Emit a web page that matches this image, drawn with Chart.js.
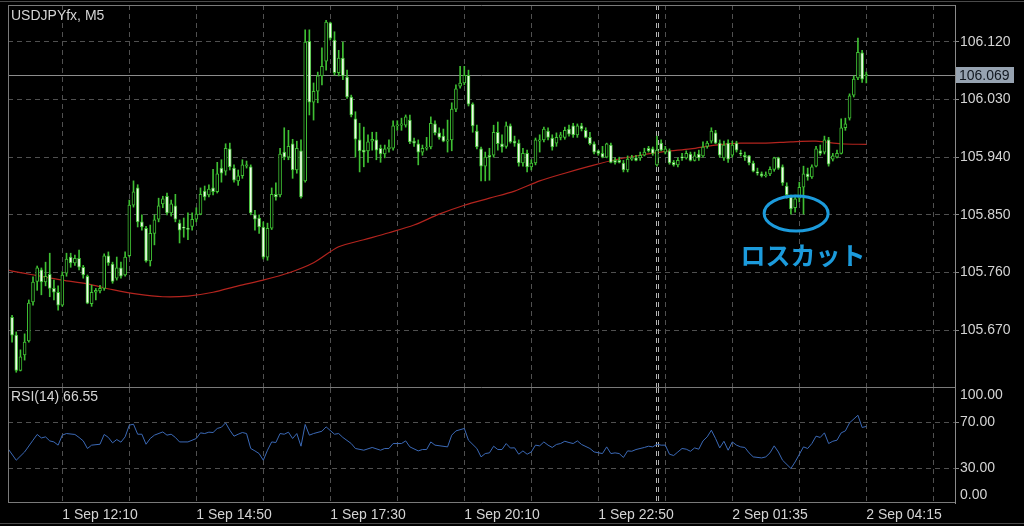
<!DOCTYPE html>
<html>
<head>
<meta charset="utf-8">
<script src="https://cdn.jsdelivr.net/npm/chart.js@4"></script>
<style>
  html, body { margin: 0; padding: 0; background: #000; }
  #wrap { position: relative; width: 1024px; height: 526px; background: #000; overflow: hidden; }
  #mainChart { position: absolute; left: 0; top: 0; }
  #rsiChart { position: absolute; left: 0; top: 388px; }
  .edge { position: absolute; left: 0; width: 1024px; height: 1px; background: #4a4a4a; }
</style>
</head>
<body>
<div id="wrap">
  <div class="edge" style="top:1px"></div>
  <canvas id="mainChart" width="1024" height="388"></canvas>
  <canvas id="rsiChart" width="1024" height="138"></canvas>
  <div class="edge" style="top:523px"></div>
</div>
<script>
// USDJPYfx M5 candles, bar 0 = 1 Sep 11:10
const opens = [
  105.690, 105.662, 105.607, 105.631, 105.653, 105.714, 105.746, 105.764, 105.745, 105.757,
  105.735, 105.729, 105.709, 105.759, 105.784, 105.775, 105.782, 105.768, 105.754, 105.711,
  105.729, 105.731, 105.735, 105.786, 105.773, 105.751, 105.767, 105.756, 105.786, 105.865,
  105.892, 105.839, 105.829, 105.778, 105.821, 105.843, 105.867, 105.879, 105.853, 105.864,
  105.837, 105.831, 105.829, 105.832, 105.843, 105.851, 105.887, 105.881, 105.892, 105.886,
  105.923, 105.918, 105.953, 105.923, 105.903, 105.911, 105.926, 105.925, 105.850, 105.845,
  105.831, 105.784, 105.829, 105.882, 105.881, 105.948, 105.940, 105.961, 105.920, 105.950,
  105.903, 106.121, 106.026, 106.043, 106.067, 106.090, 106.150, 106.123, 106.072, 106.095,
  106.065, 106.034, 106.000, 105.967, 105.951, 105.950, 105.965, 105.967, 105.954, 105.945,
  105.953, 105.954, 105.989, 105.990, 105.990, 105.998, 105.965, 105.961, 105.948, 105.954,
  105.956, 105.992, 105.978, 105.973, 105.965, 105.967, 106.015, 106.051, 106.056, 106.068,
  106.023, 105.981, 105.953, 105.926, 105.943, 105.943, 105.979, 105.961, 105.957, 105.989,
  105.965, 105.962, 105.931, 105.946, 105.925, 105.931, 105.965, 105.967, 105.981, 105.970,
  105.962, 105.971, 105.971, 105.984, 105.989, 105.975, 105.989, 105.982, 105.971, 105.961,
  105.950, 105.946, 105.940, 105.959, 105.935, 105.935, 105.931, 105.920, 105.937, 105.939,
  105.939, 105.943, 105.954, 105.953, 105.928, 105.962, 105.948, 105.950, 105.932, 105.928,
  105.940, 105.939, 105.945, 105.935, 105.945, 105.942, 105.957, 105.965, 105.978, 105.962,
  105.939, 105.962, 105.943, 105.962, 105.946, 105.943, 105.942, 105.931, 105.917, 105.914,
  105.911, 105.914, 105.921, 105.939, 105.925, 105.895, 105.878, 105.861, 105.876, 105.893,
  105.914, 105.909, 105.926, 105.950, 105.948, 105.967, 105.937, 105.940, 105.946, 105.986,
  106.001, 106.037, 106.064, 106.103, 106.067
];
const highs = [
  105.693, 105.667, 105.639, 105.664, 105.717, 105.753, 105.770, 105.767, 105.776, 105.790,
  105.748, 105.739, 105.761, 105.790, 105.790, 105.787, 105.795, 105.771, 105.756, 105.740,
  105.735, 105.740, 105.789, 105.792, 105.776, 105.784, 105.776, 105.792, 105.873, 105.903,
  105.897, 105.850, 105.832, 105.834, 105.850, 105.876, 105.879, 105.884, 105.873, 105.882,
  105.842, 105.845, 105.853, 105.853, 105.861, 105.892, 105.895, 105.897, 105.921, 105.932,
  105.936, 105.961, 105.962, 105.928, 105.920, 105.936, 105.934, 105.928, 105.857, 105.850,
  105.839, 105.837, 105.892, 105.900, 105.954, 105.986, 105.982, 105.968, 105.965, 105.967,
  106.139, 106.139, 106.056, 106.073, 106.111, 106.154, 106.151, 106.136, 106.107, 106.120,
  106.076, 106.037, 106.011, 105.993, 105.987, 105.975, 105.979, 105.979, 105.959, 105.959,
  105.967, 105.997, 105.997, 106.001, 106.006, 106.006, 105.970, 105.967, 105.959, 105.971,
  106.003, 105.997, 105.986, 105.984, 105.998, 106.025, 106.053, 106.082, 106.082, 106.076,
  106.025, 105.990, 105.956, 105.948, 105.954, 105.990, 105.995, 105.975, 105.995, 105.992,
  105.973, 105.967, 105.954, 105.951, 105.936, 105.970, 105.975, 105.987, 105.986, 105.975,
  105.978, 105.979, 105.987, 105.990, 105.993, 105.992, 105.993, 105.986, 105.979, 105.964,
  105.951, 105.957, 105.962, 105.962, 105.939, 105.940, 105.935, 105.942, 105.943, 105.943,
  105.948, 105.954, 105.957, 105.956, 105.973, 105.967, 105.957, 105.953, 105.935, 105.939,
  105.946, 105.950, 105.948, 105.948, 105.951, 105.964, 105.965, 105.986, 105.982, 105.967,
  105.965, 105.967, 105.965, 105.965, 105.951, 105.948, 105.943, 105.934, 105.923, 105.917,
  105.917, 105.925, 105.940, 105.940, 105.928, 105.900, 105.881, 105.881, 105.901, 105.926,
  105.923, 105.928, 105.957, 105.959, 105.973, 105.971, 105.946, 105.951, 106.000, 106.001,
  106.039, 106.067, 106.126, 106.107, 106.073
];
const lows = [
  105.651, 105.604, 105.606, 105.623, 105.651, 105.709, 105.732, 105.725, 105.739, 105.722,
  105.717, 105.701, 105.707, 105.754, 105.768, 105.771, 105.764, 105.751, 105.711, 105.707,
  105.717, 105.728, 105.732, 105.771, 105.743, 105.748, 105.751, 105.754, 105.784, 105.862,
  105.831, 105.826, 105.776, 105.770, 105.803, 105.839, 105.861, 105.850, 105.848, 105.839,
  105.806, 105.815, 105.811, 105.826, 105.839, 105.850, 105.873, 105.878, 105.881, 105.884,
  105.901, 105.912, 105.920, 105.901, 105.896, 105.907, 105.923, 105.850, 105.826, 105.821,
  105.781, 105.779, 105.827, 105.873, 105.878, 105.936, 105.936, 105.907, 105.915, 105.876,
  105.901, 106.006, 105.998, 106.025, 106.053, 106.076, 106.123, 106.068, 106.067, 106.061,
  106.032, 106.003, 105.940, 105.917, 105.925, 105.932, 105.951, 105.936, 105.932, 105.939,
  105.948, 105.951, 105.982, 105.982, 105.987, 105.961, 105.957, 105.928, 105.943, 105.951,
  105.953, 105.975, 105.968, 105.964, 105.948, 105.950, 106.011, 106.048, 106.053, 106.020,
  105.979, 105.953, 105.903, 105.903, 105.904, 105.940, 105.951, 105.948, 105.954, 105.962,
  105.957, 105.926, 105.926, 105.917, 105.920, 105.928, 105.948, 105.964, 105.967, 105.951,
  105.957, 105.967, 105.968, 105.973, 105.971, 105.971, 105.981, 105.970, 105.959, 105.945,
  105.943, 105.939, 105.939, 105.931, 105.929, 105.931, 105.917, 105.917, 105.935, 105.934,
  105.935, 105.942, 105.948, 105.943, 105.926, 105.950, 105.945, 105.929, 105.926, 105.925,
  105.935, 105.937, 105.934, 105.934, 105.935, 105.940, 105.954, 105.962, 105.961, 105.940,
  105.935, 105.932, 105.940, 105.948, 105.942, 105.935, 105.928, 105.917, 105.912, 105.909,
  105.909, 105.911, 105.918, 105.921, 105.896, 105.876, 105.851, 105.854, 105.870, 105.851,
  105.904, 105.907, 105.925, 105.943, 105.945, 105.926, 105.934, 105.939, 105.945, 105.982,
  105.998, 106.034, 106.061, 106.057, 106.056
];
const closes = [
  105.662, 105.607, 105.628, 105.651, 105.712, 105.745, 105.767, 105.745, 105.754, 105.735,
  105.729, 105.709, 105.756, 105.781, 105.775, 105.782, 105.768, 105.756, 105.712, 105.729,
  105.732, 105.735, 105.786, 105.775, 105.746, 105.767, 105.754, 105.784, 105.865, 105.886,
  105.839, 105.831, 105.778, 105.821, 105.842, 105.864, 105.875, 105.853, 105.867, 105.843,
  105.826, 105.829, 105.827, 105.843, 105.851, 105.882, 105.878, 105.890, 105.886, 105.914,
  105.915, 105.954, 105.925, 105.904, 105.911, 105.928, 105.928, 105.853, 105.843, 105.831,
  105.784, 105.829, 105.882, 105.878, 105.945, 105.940, 105.957, 105.920, 105.954, 105.878,
  106.120, 106.026, 106.043, 106.067, 106.082, 106.151, 106.126, 106.072, 106.095, 106.067,
  106.034, 106.006, 105.968, 105.950, 105.948, 105.964, 105.968, 105.951, 105.945, 105.953,
  105.956, 105.989, 105.990, 105.992, 106.003, 105.964, 105.962, 105.948, 105.954, 105.956,
  105.993, 105.978, 105.971, 105.965, 105.967, 106.015, 106.047, 106.056, 106.068, 106.023,
  105.989, 105.956, 105.926, 105.940, 105.940, 105.979, 105.961, 105.956, 105.989, 105.964,
  105.962, 105.931, 105.946, 105.925, 105.931, 105.967, 105.967, 105.984, 105.971, 105.956,
  105.971, 105.975, 105.982, 105.976, 105.975, 105.989, 105.984, 105.971, 105.961, 105.948,
  105.946, 105.940, 105.961, 105.932, 105.932, 105.932, 105.920, 105.937, 105.939, 105.935,
  105.943, 105.948, 105.950, 105.946, 105.951, 105.951, 105.953, 105.931, 105.928, 105.935,
  105.939, 105.946, 105.935, 105.942, 105.939, 105.956, 105.962, 105.981, 105.962, 105.943,
  105.959, 105.937, 105.959, 105.951, 105.945, 105.940, 105.931, 105.918, 105.915, 105.911,
  105.912, 105.921, 105.939, 105.923, 105.900, 105.881, 105.859, 105.875, 105.893, 105.914,
  105.909, 105.925, 105.953, 105.946, 105.967, 105.929, 105.942, 105.946, 105.986, 105.992,
  106.036, 106.062, 106.104, 106.062, 106.069
];

// red moving average, read at every 6th bar
const maBars = [-1, 0, 6, 12, 18, 24, 30, 36, 42, 48, 54, 60, 66, 72, 78, 84, 90, 96, 102, 108,
  114, 120, 126, 132, 138, 144, 150, 156, 162, 168, 174, 180, 186, 192, 198, 204];
const maValues = [105.764, 105.762, 105.755, 105.748, 105.742, 105.733, 105.726, 105.722, 105.723, 105.729,
  105.739, 105.748, 105.759, 105.775, 105.800, 105.811, 105.822, 105.834, 105.851, 105.865,
  105.876, 105.887, 105.903, 105.915, 105.926, 105.936, 105.943, 105.949, 105.953, 105.959,
  105.962, 105.962, 105.964, 105.965, 105.961, 105.960];

// RSI(14) turning points
const rsiBars = [
  -1, 1, 3, 5, 6, 7, 8, 9, 10, 11,
  12, 13, 15, 16, 17, 18, 19, 21, 22, 23,
  24, 25, 26, 27, 28, 29, 30, 31, 32, 33,
  34, 36, 37, 38, 39, 40, 42, 44, 45, 46,
  47, 48, 49, 50, 51, 52, 53, 54, 55, 56,
  57, 58, 59, 60, 61, 62, 63, 64, 65, 66,
  67, 68, 69, 70, 71, 72, 74, 75, 77, 78,
  79, 81, 82, 84, 86, 88, 89, 90, 91, 93,
  94, 95, 97, 98, 99, 100, 101, 104, 105, 106,
  108, 109, 111, 112, 113, 114, 115, 116, 117, 118,
  119, 120, 121, 122, 123, 124, 125, 126, 127, 128,
  129, 130, 131, 132, 133, 134, 135, 136, 138, 139,
  141, 142, 143, 144, 145, 146, 147, 148, 149, 151,
  152, 153, 154, 155, 156, 157, 158, 159, 160, 161,
  162, 163, 164, 165, 166, 167, 168, 169, 170, 171,
  172, 173, 174, 175, 176, 177, 179, 180, 181, 182,
  183, 184, 186, 187, 189, 190, 191, 192, 193, 194,
  195, 196, 197, 198, 199, 200, 202, 203, 204
];
const rsiValues = [
  47.4, 37.2, 44.4, 54.6, 59.6, 56.6, 57.5, 54.0, 53.1, 50.3,
  59.0, 60.4, 59.6, 57.0, 54.0, 47.4, 50.3, 51.1, 59.6, 57.0,
  52.3, 55.2, 52.9, 57.5, 67.7, 68.5, 59.8, 59.8, 51.1, 56.1,
  59.0, 61.8, 59.0, 59.8, 57.0, 53.1, 53.1, 56.1, 61.0, 60.4,
  61.6, 61.3, 64.8, 65.9, 69.7, 63.3, 58.1, 59.8, 61.3, 60.4,
  47.4, 45.3, 43.0, 37.2, 45.9, 53.1, 52.6, 60.4, 59.8, 61.6,
  56.1, 60.4, 49.4, 68.3, 59.0, 60.4, 62.4, 66.2, 59.8, 60.4,
  57.0, 51.7, 47.4, 45.9, 48.3, 45.9, 47.4, 47.4, 51.7, 51.7,
  54.0, 48.8, 45.3, 46.5, 46.5, 53.1, 50.3, 48.8, 59.0, 62.7,
  64.8, 54.6, 47.4, 40.1, 43.0, 43.6, 49.4, 46.5, 46.5, 51.7,
  47.8, 48.0, 42.4, 45.3, 42.4, 44.4, 50.3, 49.7, 53.1, 50.3,
  48.3, 50.9, 51.7, 53.7, 52.6, 51.7, 54.0, 50.9, 47.4, 44.4,
  43.0, 48.8, 43.0, 43.6, 43.0, 39.6, 45.3, 45.0, 46.5, 48.3,
  49.4, 48.8, 51.1, 50.3, 50.3, 42.4, 41.3, 44.4, 47.4, 46.8,
  45.0, 47.9, 46.8, 54.0, 57.5, 63.3, 56.1, 47.9, 53.7, 45.9,
  53.1, 50.3, 48.8, 48.3, 43.6, 40.1, 39.2, 40.1, 43.6, 49.7,
  44.4, 37.2, 30.0, 35.7, 48.8, 47.4, 51.7, 58.1, 57.0, 61.0,
  51.7, 53.7, 54.6, 61.0, 62.7, 69.7, 76.3, 65.7, 66.55
];

// axes
const priceTicks = [105.670, 105.760, 105.850, 105.940, 106.030, 106.120];
const rsiLevels = [30, 70];
const rsiBounds = [100, 0];
const gridBars = [12, 28, 44, 60, 76, 92, 108, 124, 140, 156, 172, 188, 204, 220];
const labelBars = [12, 44, 76, 108, 140, 172, 204];
const timeLabels = ['1 Sep 12:10', '1 Sep 14:50', '1 Sep 17:30', '1 Sep 20:10', '1 Sep 22:50', '2 Sep 01:35', '2 Sep 04:15'];
const daySeparatorBar = 153.9;
const lastPrice = 106.069;
const lossCutBar = 187;
const lossCutPrice = 105.852;

const X_MIN = -0.97, X_MAX = 225.18;
const P_MIN = 105.5794, P_MAX = 106.1778;

const FONT = "'Liberation Sans', Arial, sans-serif";
const GREEN = '#3fbf33';
const GRID = '#505050';
const TEXT = '#d4d4d4';
const FRAME = '#7a7a7a';
const LOSS_BLUE = '#1c9bdc';

const bodyData = closes.map((c, i) => ({ x: i, y: [opens[i], c] }));
const wickData = closes.map((c, i) => ({ x: i, y: [lows[i], highs[i]] }));
const bodyFill = closes.map((c, i) => c < opens[i] ? '#f0fbe9' : '#000000');
const maData = maBars.map((b, i) => ({ x: b, y: maValues[i] }));
const rsiData = rsiBars.map((b, i) => ({ x: b, y: rsiValues[i] }));

// keep the plot box exactly where the layout padding puts it
function fixRightAxis(s) {
    s.width = 69;
    s.paddingTop = 0;
    s.paddingBottom = 0;
}

function drawSeparator(chart) {
    const { ctx, chartArea } = chart;
    const x = Math.round(chart.scales.x.getPixelForValue(daySeparatorBar)) - 0.5;
    ctx.save();
    ctx.strokeStyle = '#b4b4b4';
    ctx.lineWidth = 1;
    ctx.setLineDash([5, 4]);
    [x, x + 2].forEach(px => {
        ctx.beginPath();
        ctx.moveTo(px, chartArea.top);
        ctx.lineTo(px, chartArea.bottom);
        ctx.stroke();
    });
    ctx.restore();
}

function drawFrame(chart, withTop) {
    const { ctx, chartArea } = chart;
    ctx.save();
    ctx.strokeStyle = FRAME;
    ctx.lineWidth = 1;
    ctx.beginPath();
    ctx.moveTo(chartArea.left + 0.5, chartArea.top);
    ctx.lineTo(chartArea.left + 0.5, chartArea.bottom);
    if (withTop) {
        ctx.moveTo(chartArea.left, chartArea.top + 0.5);
        ctx.lineTo(chartArea.right, chartArea.top + 0.5);
    }
    ctx.moveTo(chartArea.left, chartArea.bottom - 0.5);
    ctx.lineTo(chartArea.right, chartArea.bottom - 0.5);
    ctx.stroke();
    ctx.restore();
}

const mainDecor = {
    id: 'mainDecor',
    beforeDatasetsDraw(chart) {
        const { ctx, chartArea, scales } = chart;
        drawSeparator(chart);
        // current price line
        const y = Math.round(scales.y.getPixelForValue(lastPrice)) + 0.5;
        ctx.save();
        ctx.strokeStyle = '#8c8c8c';
        ctx.lineWidth = 1;
        ctx.beginPath();
        ctx.moveTo(chartArea.left, y);
        ctx.lineTo(chartArea.right, y);
        ctx.stroke();
        ctx.restore();
    },
    afterDraw(chart) {
        const { ctx, chartArea, scales } = chart;
        drawFrame(chart, true);

        // price tag
        const y = Math.round(scales.y.getPixelForValue(lastPrice));
        ctx.save();
        ctx.fillStyle = '#97a3b1';
        ctx.fillRect(chartArea.right + 1, y - 8, 58, 16);
        ctx.fillStyle = '#121820';
        ctx.font = '14px ' + FONT;
        ctx.textBaseline = 'middle';
        ctx.fillText(lastPrice.toFixed(3), chartArea.right + 4, y + 1);

        // title
        ctx.fillStyle = TEXT;
        ctx.textBaseline = 'alphabetic';
        ctx.fillText('USDJPYfx, M5', 11, 20);

        // loss-cut mark
        const cx = scales.x.getPixelForValue(lossCutBar);
        const cy = scales.y.getPixelForValue(lossCutPrice);
        ctx.strokeStyle = LOSS_BLUE;
        ctx.lineWidth = 3;
        ctx.beginPath();
        ctx.ellipse(cx + 1, cy, 32, 17.5, 0, 0, Math.PI * 2);
        ctx.stroke();
        ctx.fillStyle = LOSS_BLUE;
        ctx.font = "bold 25px 'Noto Sans CJK JP', sans-serif";
        ctx.textAlign = 'center';
        ctx.textBaseline = 'middle';
        ctx.fillText('ロスカット', cx + 8, cy + 42);
        ctx.restore();
    }
};

const rsiDecor = {
    id: 'rsiDecor',
    beforeDatasetsDraw(chart) {
        drawSeparator(chart);
    },
    afterDraw(chart) {
        const { ctx, chartArea, scales } = chart;
        drawFrame(chart, false);
        ctx.save();
        ctx.fillStyle = TEXT;
        ctx.font = '14px ' + FONT;
        ctx.textBaseline = 'alphabetic';
        ctx.fillText('RSI(14) ' + rsiValues[rsiValues.length - 1].toFixed(2), 11, 13);
        // 100 / 0 labels sit inside the panel edges
        ctx.textBaseline = 'middle';
        rsiBounds.forEach(v => {
            let y = scales.y.getPixelForValue(v);
            y += v === 100 ? 7 : -8;
            ctx.fillText(v.toFixed(2), chartArea.right + 5, y);
        });
        ctx.restore();
    }
};

const xGrid = { color: GRID, drawTicks: false, offset: false };

new Chart(document.getElementById('mainChart'), {
    type: 'bar',
    data: {
        datasets: [
            { type: 'bar', data: bodyData, backgroundColor: bodyFill, borderColor: GREEN, borderWidth: 1,
              borderSkipped: false, barThickness: 3, minBarLength: 1, grouped: false, order: 0 },
            { type: 'bar', data: wickData, backgroundColor: GREEN, borderWidth: 0,
              barThickness: 1, grouped: false, order: 1 },
            { type: 'line', data: maData, borderColor: '#b3241e', borderWidth: 1.2,
              pointRadius: 0, tension: 0.3, order: 2 }
        ]
    },
    options: {
        responsive: false,
        animation: false,
        layout: { padding: { left: 8, top: 5, right: 0, bottom: 0 } },
        plugins: { legend: { display: false }, tooltip: { enabled: false } },
        scales: {
            x: {
                type: 'linear', min: X_MIN, max: X_MAX, offset: false,
                afterBuildTicks: s => { s.ticks = gridBars.map(v => ({ value: v })); },
                afterFit: s => { s.height = 0; s.paddingLeft = 0; s.paddingRight = 0; },
                ticks: { display: false },
                grid: xGrid,
                border: { display: false, dash: [5, 4] }
            },
            y: {
                position: 'right', min: P_MIN, max: P_MAX, beginAtZero: false,
                afterBuildTicks: s => { s.ticks = priceTicks.map(v => ({ value: v })); },
                afterFit: fixRightAxis,
                ticks: { color: TEXT, font: { family: FONT, size: 14 }, padding: 1,
                         callback: v => Number(v).toFixed(3) },
                grid: { color: GRID, tickLength: 4, tickColor: '#8a8a8a' },
                border: { color: '#8a8a8a', dash: [5, 4] }
            }
        }
    },
    plugins: [mainDecor]
});

new Chart(document.getElementById('rsiChart'), {
    type: 'line',
    data: {
        datasets: [
            { data: rsiData, borderColor: '#3b69b6', borderWidth: 1, pointRadius: 0, tension: 0 }
        ]
    },
    options: {
        responsive: false,
        animation: false,
        layout: { padding: { left: 8, top: 0, right: 0, bottom: 0 } },
        plugins: { legend: { display: false }, tooltip: { enabled: false } },
        scales: {
            x: {
                type: 'linear', min: X_MIN, max: X_MAX, offset: false,
                afterBuildTicks: s => { s.ticks = gridBars.map(v => ({ value: v })); },
                afterFit: s => { s.height = 23; s.paddingLeft = 0; s.paddingRight = 0; },
                ticks: {
                    color: TEXT, font: { family: FONT, size: 14 }, align: 'start',
                    maxRotation: 0, autoSkip: false, padding: 4,
                    callback: v => {
                        const k = labelBars.indexOf(v);
                        return k >= 0 ? timeLabels[k] : '';
                    }
                },
                grid: xGrid,
                border: { display: false, dash: [5, 4] }
            },
            y: {
                position: 'right', min: 0, max: 100,
                afterBuildTicks: s => { s.ticks = rsiLevels.map(v => ({ value: v })); },
                afterFit: fixRightAxis,
                ticks: { color: TEXT, font: { family: FONT, size: 14 }, padding: 1,
                         callback: v => Number(v).toFixed(2) },
                grid: { color: GRID, tickLength: 4, tickColor: '#8a8a8a' },
                border: { color: '#8a8a8a', dash: [5, 4] }
            }
        }
    },
    plugins: [rsiDecor]
});
</script>
</body>
</html>
